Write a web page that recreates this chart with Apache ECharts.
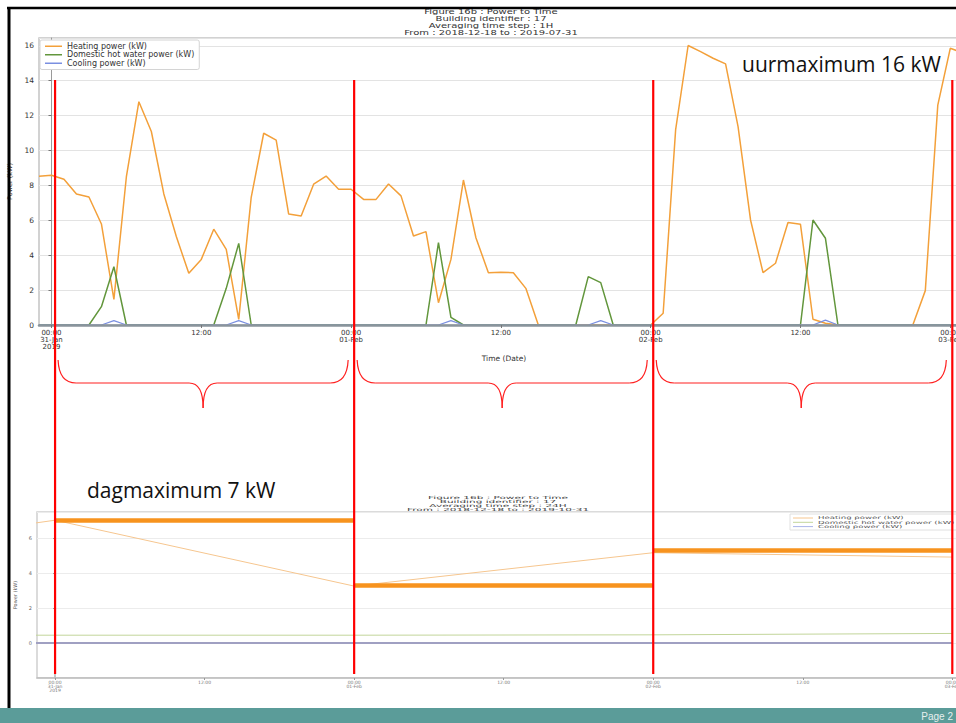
<!DOCTYPE html>
<html><head><meta charset="utf-8">
<script src="https://cdn.jsdelivr.net/npm/echarts@6/dist/echarts.min.js"></script>
<style>html,body{margin:0;padding:0;background:#fff}#c{width:956px;height:723px}</style>
</head><body><div id="c"></div><script>
// ---------- DATA ----------
// Hourly series (1H averaging), first value at 30-Jan 23:00 (hour -1 relative to 31-Jan 00:00)
const hourStart = -1;
const heatingHourly = [
  8.53,
  8.58, 8.35, 7.51, 7.34, 5.79, 1.47, 8.5, 12.8, 11.09, 7.51, 5.07, 2.96,
  3.76, 5.49, 4.34, 0.32, 7.32, 10.99, 10.6, 6.36, 6.25, 8.07, 8.54, 7.78,
  7.78, 7.2, 7.2, 8.08, 7.4, 5.1, 5.35, 1.28, 3.76, 8.31, 5.0, 3.0,
  3.02, 3.0, 2.1, 0, 0, 0, 0, 0, 0, 0, 0, 0,
  0, 0.67, 11.2, 16.02, 15.67, 15.29, 14.97, 11.37, 6.02, 3.0, 3.54, 5.87,
  5.77, 0.33, 0.1, 0, 0, 0, 0, 0, 0, 0, 1.97, 12.6,
  15.86, 15.6
];
const dhwHourly = [
  0,
  0, 0, 0, 0, 1.05, 3.34, 0, 0, 0, 0, 0, 0,
  0, 0, 2.1, 4.68, 0, 0, 0, 0, 0, 0, 0, 0,
  0, 0, 0, 0, 0, 0, 0, 4.72, 0.44, 0, 0, 0,
  0, 0, 0, 0, 0, 0, 0, 2.77, 2.43, 0, 0, 0,
  0, 0, 0, 0, 0, 0, 0, 0, 0, 0, 0, 0,
  0, 6.02, 4.97, 0, 0, 0, 0, 0, 0, 0, 0, 0,
  0, 0
];
const coolingHourly = [
  0,
  0, 0, 0, 0, 0, 0.25, 0, 0, 0, 0, 0, 0,
  0, 0, 0, 0.25, 0, 0, 0, 0, 0, 0, 0, 0,
  0, 0, 0, 0, 0, 0, 0, 0, 0.25, 0, 0, 0,
  0, 0, 0, 0, 0, 0, 0, 0, 0.25, 0, 0, 0,
  0, 0, 0, 0, 0, 0, 0, 0, 0, 0, 0, 0,
  0, 0, 0.28, 0, 0, 0, 0, 0, 0, 0, 0, 0,
  0, 0
];
// Daily series (24H averaging)
const dayHours = [-24, 0, 24, 48, 72];
const heatingDaily = [4.6, 7.03, 3.26, 5.17, 4.92];
const dhwDaily = [0.45, 0.45, 0.45, 0.47, 0.55];
const coolingDaily = [0, 0, 0, 0, 0];
// Daily maxima annotations (start hour of each day, value)
const dayStarts = [0, 24, 48];
const dayMaxValues = [7.0, 3.3, 5.3];
// Day boundaries (red lines)
const dayBoundaries = [0, 24, 48, 72];
// Tick labels
const hourTicks = [0, 12, 24, 36, 48, 60, 72];
const hourTickLabels = ['00:00\n31-Jan\n2019', '12:00', '00:00\n01-Feb', '12:00', '00:00\n02-Feb', '12:00', '00:00\n03-Feb'];
const seriesNames = ['Heating power (kW)', 'Domestic hot water power (kW)', 'Cooling power (kW)'];
const titleTop = 'Figure 16b : Power to Time\nBuilding identifier : 17\nAveraging time step : 1H\nFrom : 2018-12-18 to : 2019-07-31';
const titleBottom = 'Figure 16b : Power to Time\nBuilding identifier : 17\nAveraging time step : 24H\nFrom : 2018-12-18 to : 2019-10-31';

// ---------- CHART ----------
const C_HEAT = '#f3a03a', C_DHW = '#62963c', C_COOL = '#7a8fe0';
const FF = 'DejaVu Sans';
const chart = echarts.init(document.getElementById('c'), null, {renderer: 'svg'});
const pairs = (xs, ys) => ys.map((v, i) => [xs[i], v]);
const hourly = arr => arr.map((v, i) => [hourStart + i, v]);
const labelFmt = v => { const i = hourTicks.indexOf(Math.round(v)); return i >= 0 ? hourTickLabels[i] : ''; };

chart.setOption({
  animation: false,
  backgroundColor: '#fff',
  grid: [
    {left: 39, top: 38, width: 930, height: 287, show: true, borderColor: '#c4c4c4', borderWidth: 1.5, outerBoundsMode: 'none', containLabel: false},
    {left: 37, top: 512, width: 934, height: 166, show: true, borderColor: '#cfcfcf', borderWidth: 1.5, outerBoundsMode: 'none', containLabel: false}
  ],
  legend: {
    data: seriesNames, orient: 'vertical', left: 40, top: 40, icon: 'rect',
    itemWidth: 17, itemHeight: 1.5, itemGap: 0, padding: [2, 5, 2, 5],
    borderColor: '#d4d4d4', borderWidth: 1, borderRadius: 2, backgroundColor: '#fff',
    textStyle: {fontFamily: FF, fontSize: 8, lineHeight: 8.5, color: '#333'}
  },
  xAxis: [
    {type: 'value', gridIndex: 0, min: -1, max: 73.5, z: 5,
     name: 'Time (Date)', nameLocation: 'middle', nameGap: 29,
     nameTextStyle: {fontFamily: FF, fontSize: 7.5, color: '#333'},
     axisLine: {onZero: false, lineStyle: {color: '#8a949c', width: 2.5}},
     axisTick: {customValues: hourTicks, length: 3, lineStyle: {color: '#777'}},
     axisLabel: {customValues: hourTicks, formatter: labelFmt, fontFamily: FF, fontSize: 7, lineHeight: 7.2, color: '#333', margin: 4},
     splitLine: {show: false}},
    {type: 'value', gridIndex: 1, min: -1.45, max: 73.5, z: 5,
     axisLine: {onZero: false, lineStyle: {color: '#bdbdbd', width: 1.5}},
     axisTick: {customValues: hourTicks, length: 2, lineStyle: {color: '#999'}},
     axisLabel: {customValues: hourTicks, formatter: labelFmt, fontFamily: FF, fontSize: 4.5, lineHeight: 4, color: '#777', margin: 2},
     splitLine: {show: false}}
  ],
  yAxis: [
    {type: 'value', gridIndex: 0, min: 0, max: 16.45, interval: 2,
     name: 'Power (kW)', nameLocation: 'middle', nameGap: 25,
     nameTextStyle: {fontFamily: FF, fontSize: 6.5, color: '#333'},
     axisLine: {show: true, lineStyle: {color: '#9a9a9a'}},
     axisTick: {show: true, length: 3, lineStyle: {color: '#777'}},
     axisLabel: {fontFamily: FF, fontSize: 7.5, color: '#333', margin: 5, showMaxLabel: false},
     splitLine: {lineStyle: {color: '#e3e3e3', width: 1.2}}},
    {type: 'value', gridIndex: 1, min: -2, max: 7.5, interval: 2,
     name: 'Power (kW)', nameLocation: 'middle', nameGap: 19,
     nameTextStyle: {fontFamily: FF, fontSize: 5, color: '#555'},
     axisLine: {show: true, lineStyle: {color: '#b5b5b5', width: 1.5}},
     axisTick: {show: true, length: 2, lineStyle: {color: '#999'}},
     axisLabel: {fontFamily: FF, fontSize: 5, color: '#666', margin: 5, showMaxLabel: false, showMinLabel: false},
     splitLine: {lineStyle: {color: '#ececec', width: 1}}}
  ],
  series: [
    {name: seriesNames[0], type: 'line', xAxisIndex: 0, yAxisIndex: 0, data: hourly(heatingHourly),
     symbol: 'none', lineStyle: {color: C_HEAT, width: 1.5}, itemStyle: {color: C_HEAT}},
    {name: seriesNames[1], type: 'line', xAxisIndex: 0, yAxisIndex: 0, data: hourly(dhwHourly),
     symbol: 'none', lineStyle: {color: C_DHW, width: 1.5}, itemStyle: {color: C_DHW}},
    {name: seriesNames[2], type: 'line', xAxisIndex: 0, yAxisIndex: 0, data: hourly(coolingHourly),
     symbol: 'none', lineStyle: {color: C_COOL, width: 1.2}, itemStyle: {color: C_COOL}},
    {name: seriesNames[0], type: 'line', xAxisIndex: 1, yAxisIndex: 1, data: pairs(dayHours, heatingDaily),
     symbol: 'none', lineStyle: {color: '#f6c68f', width: 1}, itemStyle: {color: C_HEAT},
     markLine: {silent: true, symbol: 'none', label: {show: false},
       lineStyle: {color: '#f7931e', width: 4.5, type: 'solid'},
       data: dayMaxValues.map((v, i) => [{coord: [dayStarts[i], v]}, {coord: [dayStarts[i] + 24, v]}])}},
    {name: seriesNames[1], type: 'line', xAxisIndex: 1, yAxisIndex: 1, data: pairs(dayHours, dhwDaily),
     symbol: 'none', lineStyle: {color: '#c2d59a', width: 1}, itemStyle: {color: C_DHW}},
    {name: seriesNames[2], type: 'line', xAxisIndex: 1, yAxisIndex: 1, data: pairs(dayHours, coolingDaily),
     symbol: 'none', lineStyle: {color: '#a0a0c2', width: 2}, itemStyle: {color: C_COOL}}
  ]
});

// ---------- ANNOTATIONS (positions from the axes) ----------
const redX = dayBoundaries.map(h => chart.convertToPixel({xAxisIndex: 1}, h));
const els = [];
// slide frame and footer
els.push({type: 'rect', shape: {x: 0, y: 708, width: 956, height: 15}, style: {fill: '#5b9c99'}, z: 50});
els.push({type: 'text', x: 953, y: 716, z: 51, style: {text: 'Page 2', fill: '#e6efee', font: '10px "Liberation Sans"', textAlign: 'right', textVerticalAlign: 'middle'}});
els.push({type: 'line', shape: {x1: 7, y1: 8, x2: 956, y2: 8}, style: {stroke: '#000', lineWidth: 2.5}, z: 50});
els.push({type: 'line', shape: {x1: 9, y1: 7, x2: 9, y2: 708}, style: {stroke: '#000', lineWidth: 3}, z: 50});
// chart titles (squeezed vertically like the picture)
els.push({type: 'text', x: 491, y: 8, scaleY: 0.72, z: 40, style: {text: titleTop, fill: '#333', font: '10px "DejaVu Sans"', lineHeight: 9.6, textAlign: 'center'}});
els.push({type: 'text', x: 498, y: 496, scaleY: 0.4, z: 40, style: {text: titleBottom, fill: '#444', font: '10.5px "DejaVu Sans"', lineHeight: 9.5, textAlign: 'center'}});
// bottom legend (squeezed like the picture)
const lgX = 790, lgY = 514;
els.push({type: 'rect', shape: {x: lgX, y: lgY, width: 180, height: 16}, style: {fill: '#fff', stroke: '#e0e0e0', lineWidth: 1}, z: 40});
[C_HEAT, C_DHW, C_COOL].forEach((c, i) => {
  const yy = lgY + 4 + i * 4.3;
  els.push({type: 'line', shape: {x1: lgX + 3, y1: yy, x2: lgX + 23, y2: yy}, style: {stroke: ['#f6c68f', '#c2d59a', '#a9b4e8'][i], lineWidth: 1}, z: 41});
  els.push({type: 'text', x: lgX + 28, y: yy, scaleY: 0.5, z: 41, style: {text: seriesNames[i], fill: '#555', font: '8.6px "DejaVu Sans"', textVerticalAlign: 'middle'}});
});
// red day boundaries
redX.forEach(x => els.push({type: 'line', shape: {x1: x, y1: 80, x2: x, y2: 674}, style: {stroke: '#ff0000', lineWidth: 2.2}, z: 60}));
// braces
const y0 = 360, y1 = 383, y2 = 408;
for (let i = 0; i < redX.length - 1; i++) {
  const a = redX[i] + 3, b = redX[i + 1] - 6, t = (a + b) / 2;
  const st = {stroke: '#ff2020', lineWidth: 1.2, fill: null};
  els.push({type: 'bezierCurve', shape: {x1: a, y1: y0, cpx1: a + 1, cpy1: y1, x2: a + 18, y2: y1}, style: st, z: 60});
  els.push({type: 'line', shape: {x1: a + 18, y1: y1, x2: t - 14, y2: y1}, style: st, z: 60});
  els.push({type: 'bezierCurve', shape: {x1: t - 14, y1: y1, cpx1: t, cpy1: y1, x2: t, y2: y2}, style: st, z: 60});
  els.push({type: 'bezierCurve', shape: {x1: t, y1: y2, cpx1: t, cpy1: y1, x2: t + 14, y2: y1}, style: st, z: 60});
  els.push({type: 'line', shape: {x1: t + 14, y1: y1, x2: b - 18, y2: y1}, style: st, z: 60});
  els.push({type: 'bezierCurve', shape: {x1: b - 18, y1: y1, cpx1: b - 1, cpy1: y1, x2: b, y2: y0}, style: st, z: 60});
}
// text annotations
els.push({type: 'text', x: 742, y: 64, z: 60, style: {text: 'uurmaximum 16 kW', fill: '#111', font: '21px "Open Sans"', textVerticalAlign: 'middle'}});
els.push({type: 'text', x: 87, y: 490, z: 60, style: {text: 'dagmaximum 7 kW', fill: '#111', font: '21px "Open Sans"', textVerticalAlign: 'middle'}});
chart.setOption({graphic: {elements: els}});
</script></body></html>
